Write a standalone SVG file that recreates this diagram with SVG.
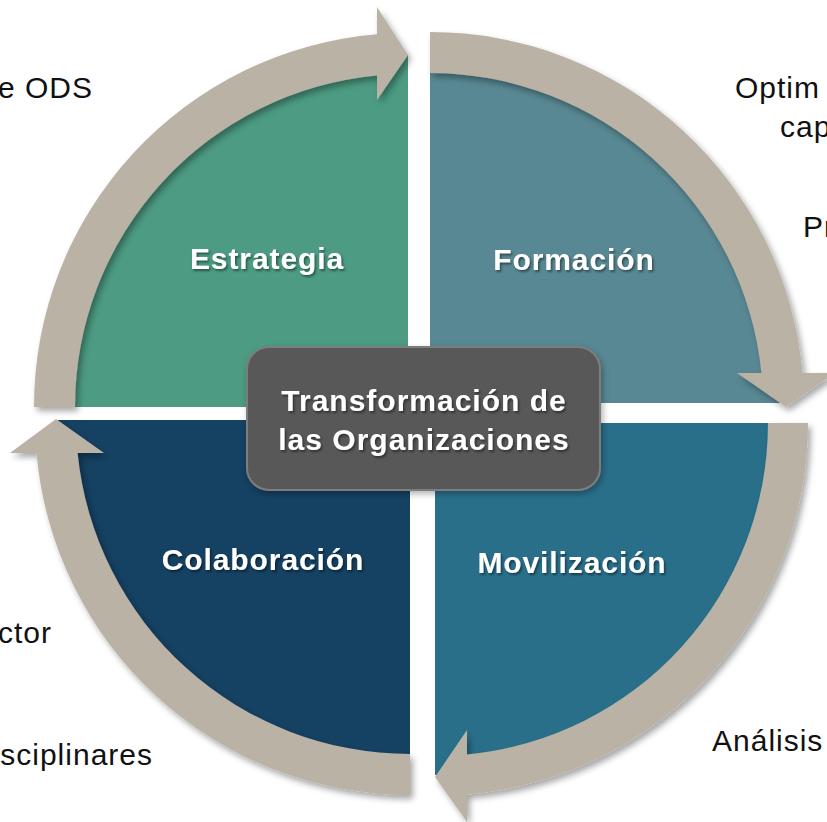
<svg xmlns="http://www.w3.org/2000/svg" width="827" height="822" viewBox="0 0 827 822">
  <defs>
    <style>
      .band { fill: #bab2a5; filter: url(#bshadow); }
      .qlabel { font-family: "Liberation Sans", Arial, sans-serif; font-weight: bold; font-size: 30px; fill: #ffffff; text-anchor: middle; letter-spacing: 0.9px; filter: url(#tshadow); }
      .ctext { font-family: "Liberation Sans", Arial, sans-serif; font-weight: bold; font-size: 30px; fill: #ffffff; text-anchor: middle; letter-spacing: 1px; filter: url(#tshadow); }
      .side { font-family: "Liberation Sans", Arial, sans-serif; font-size: 30px; fill: #111111; letter-spacing: 1px; }
    </style>
    <filter id="bshadow" x="-10%" y="-10%" width="125%" height="125%">
      <feDropShadow dx="3" dy="4" stdDeviation="3" flood-color="#000000" flood-opacity="0.35"/>
    </filter>
    <filter id="tshadow" x="-10%" y="-20%" width="125%" height="150%">
      <feDropShadow dx="1.5" dy="2" stdDeviation="1" flood-color="#000000" flood-opacity="0.45"/>
    </filter>
    <filter id="boxshadow" x="-10%" y="-10%" width="125%" height="130%">
      <feDropShadow dx="2" dy="3" stdDeviation="3" flood-color="#000000" flood-opacity="0.3"/>
    </filter>
  </defs>
  <rect width="827" height="822" fill="#ffffff"/>

  <!-- side texts (cut off at the edges, as in the reference) -->
  <g id="side-texts">
    <text class="side" x="93" y="98" text-anchor="end">e ODS</text>
    <text class="side" x="735" y="98">Optim</text>
    <text class="side" x="780" y="137">cap</text>
    <text class="side" x="803" y="237">Pr</text>
    <text class="side" x="52" y="643" text-anchor="end">ctor</text>
    <text class="side" x="153" y="765" text-anchor="end">sciplinares</text>
    <text class="side" x="712" y="751">Análisis</text>
  </g>

  <g id="estrategia">
    <path d="M408 407 L56 407 A352 352 0 0 1 408 55 Z" fill="#4c9b82"/>
  </g>
  <g id="formacion">
    <path d="M430 403 L430 51 A352 352 0 0 1 782 403 Z" fill="#588893"/>
  </g>
  <g id="movilizacion">
    <path d="M435 423 L787 423 A352 352 0 0 1 435 775 Z" fill="#296f8a"/>
  </g>
  <g id="colaboracion">
    <path d="M410 420 L410 772 A352 352 0 0 1 58 420 Z" fill="#154162"/>
  </g>

  <g id="connectors">
    <path class="band" d="M34 407 A374 374 0 0 1 377 34.3 L377 7 L408 55 L377 100 L377 75.4 A333 333 0 0 0 75 407 Z"/>
    <path class="band" d="M430 32 A374 374 0 0 1 802.5 373 L835 373 L786 407 L737 373 L761.4 373 A333 333 0 0 0 430 73 Z"/>
    <path class="band" d="M808 423 A373 373 0 0 1 467 794.6 L467 822 L435 777 L467 730 L467 754.5 A333 333 0 0 0 768 423 Z"/>
    <path class="band" d="M410 795 A375 375 0 0 1 36.5 453 L10 453 L56 419 L104 453 L77.6 453 A334 334 0 0 0 410 754 Z"/>
  </g>

  <g id="labels">
    <text class="qlabel" x="267" y="269">Estrategia</text>
    <text class="qlabel" x="574" y="270">Formación</text>
    <text class="qlabel" x="263" y="570" letter-spacing="1.5">Colaboración</text>
    <text class="qlabel" x="572" y="573">Movilización</text>
  </g>

  <g id="center">
    <rect x="247" y="347" width="353" height="143" rx="22" fill="#595959" stroke="#7d7d7d" stroke-width="2" filter="url(#boxshadow)"/>
    <text class="ctext" x="424" y="411">Transformación de</text>
    <text class="ctext" x="424" y="450">las Organizaciones</text>
  </g>
</svg>
